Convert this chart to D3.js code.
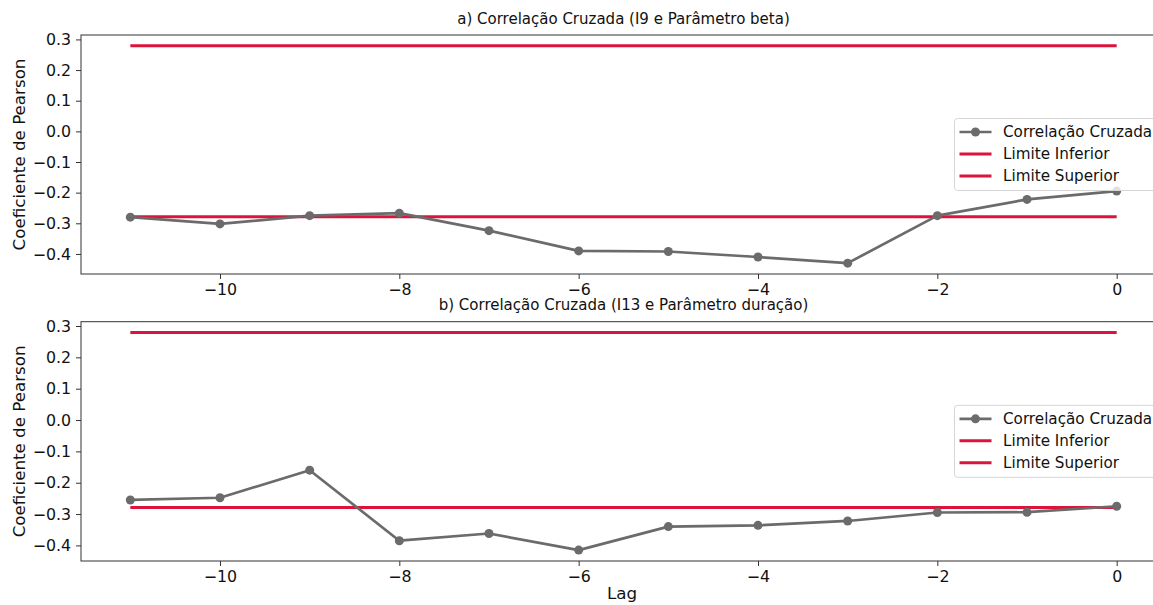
<!DOCTYPE html>
<html>
<head>
<meta charset="utf-8">
<script src="https://cdn.jsdelivr.net/npm/d3@7"></script>
<style>
  body { margin: 0; background: #fff; }
  svg { display: block; font-family: "DejaVu Sans", sans-serif; }
</style>
</head>
<body>
<svg></svg>
<script>
// data
let lags = [-11, -10, -9, -8, -7, -6, -5, -4, -3, -2, -1, 0];
let corrA = [-0.280, -0.302, -0.275, -0.267, -0.324, -0.390, -0.392, -0.410, -0.430, -0.275, -0.222, -0.195];
let corrB = [-0.255, -0.248, -0.160, -0.385, -0.362, -0.415, -0.340, -0.336, -0.322, -0.295, -0.294, -0.275];
let limInferior = -0.279;
let limSuperior = 0.279;
let titles = ['a) Correlação Cruzada (I9 e Parâmetro beta)', 'b) Correlação Cruzada (I13 e Parâmetro duração)'];
let legendLabels = ['Correlação Cruzada', 'Limite Inferior', 'Limite Superior'];
let xTicks = [-10, -8, -6, -4, -2, 0];
let yTicks = [-0.4, -0.3, -0.2, -0.1, 0.0, 0.1, 0.2, 0.3];

let width = 1153;
let height = 605;
let grey = '#6b6b6b';
let red = '#dc143c';

let svg = d3.select('svg')
    .attr('width', width)
    .attr('height', height);

// axes left/right (right edge is cropped off in the original)
let left = 81, right = 1166;
let panels = [
    { top: 35, bottom: 274, values: corrA, title: titles[0] },
    { top: 321.7, bottom: 561, values: corrB, title: titles[1] }
];

// unicode minus like matplotlib
function minus(s) { return s.replace('-', '\u2212'); }

// matplotlib-like 5% margins
let xPad = (d3.max(lags) - d3.min(lags)) * 0.05;
let xScale = d3.scaleLinear()
    .domain([d3.min(lags) - xPad, d3.max(lags) + xPad])
    .range([left, right]);

panels.forEach(function(p) {
    let lo = Math.min(d3.min(p.values), limInferior);
    let hi = Math.max(d3.max(p.values), limSuperior);
    let pad = (hi - lo) * 0.05;
    let yScale = d3.scaleLinear()
        .domain([lo - pad, hi + pad])
        .range([p.bottom, p.top]);

    let g = svg.append('g');

    // limits
    [limInferior, limSuperior].forEach(function(v) {
        g.append('line')
            .attr('x1', xScale(lags[0]))
            .attr('x2', xScale(lags[lags.length - 1]))
            .attr('y1', yScale(v))
            .attr('y2', yScale(v))
            .attr('stroke', red)
            .attr('stroke-width', 3);
    });

    // cross correlation line
    let line = d3.line()
        .x(function(d, i) { return xScale(lags[i]); })
        .y(function(d) { return yScale(d); });

    g.append('path')
        .datum(p.values)
        .attr('d', line)
        .attr('fill', 'none')
        .attr('stroke', grey)
        .attr('stroke-width', 2.7)
        .attr('stroke-linejoin', 'round');

    g.selectAll('circle')
        .data(p.values)
        .enter()
        .append('circle')
        .attr('cx', function(d, i) { return xScale(lags[i]); })
        .attr('cy', function(d) { return yScale(d); })
        .attr('r', 4.5)
        .attr('fill', grey);

    // axes
    let xAxis = d3.axisBottom(xScale)
        .tickValues(xTicks)
        .tickSize(5)
        .tickPadding(5)
        .tickFormat(function(d) { return minus(d3.format('d')(d)); });
    let gx = g.append('g')
        .attr('transform', `translate(0, ${p.bottom})`)
        .call(xAxis);

    let yAxis = d3.axisLeft(yScale)
        .tickValues(yTicks)
        .tickSize(5)
        .tickPadding(5)
        .tickFormat(function(d) { return minus(d3.format('.1f')(d)); });
    let gy = g.append('g')
        .attr('transform', `translate(${left}, 0)`)
        .call(yAxis);

    [gx, gy].forEach(function(a) {
        a.select('.domain').remove();
        a.selectAll('line').attr('stroke', '#333').attr('stroke-width', 1);
        a.selectAll('text')
            .attr('fill', '#111')
            .style('font-size', '15.8px')
            .style('font-family', '"DejaVu Sans", sans-serif');
    });

    // spines
    g.append('rect')
        .attr('x', left)
        .attr('y', p.top)
        .attr('width', right - left)
        .attr('height', p.bottom - p.top)
        .attr('fill', 'none')
        .attr('stroke', '#333')
        .attr('stroke-width', 1);

    // title
    g.append('text')
        .attr('x', (left + right) / 2)
        .attr('y', p.top - 11.5)
        .attr('text-anchor', 'middle')
        .attr('fill', '#111')
        .style('font-size', '15px')
        .text(p.title);

    // y label
    g.append('text')
        .attr('transform', `translate(24.5, ${(p.top + p.bottom) / 2}) rotate(-90)`)
        .attr('text-anchor', 'middle')
        .attr('fill', '#111')
        .style('font-size', '16.7px')
        .text('Coeficiente de Pearson');

    // legend (center right)
    let lgH = 72, lgW = 205;
    let lgX = 954.5, lgY = (p.top + p.bottom) / 2 - lgH / 2;
    let lg = g.append('g').attr('transform', `translate(${lgX}, ${lgY})`);
    lg.append('rect')
        .attr('width', lgW)
        .attr('height', lgH)
        .attr('rx', 3)
        .attr('fill', 'rgba(255,255,255,0.8)')
        .attr('stroke', '#d6d6d6')
        .attr('stroke-width', 1);
    legendLabels.forEach(function(label, i) {
        let cy = 13.5 + i * 22;
        lg.append('line')
            .attr('x1', 5).attr('x2', 37)
            .attr('y1', cy).attr('y2', cy)
            .attr('stroke', i === 0 ? grey : red)
            .attr('stroke-width', i === 0 ? 2.7 : 3);
        if (i === 0) {
            lg.append('circle')
                .attr('cx', 21).attr('cy', cy).attr('r', 4.5)
                .attr('fill', grey);
        }
        lg.append('text')
            .attr('x', 48.5)
            .attr('y', cy)
            .attr('dy', '0.36em')
            .attr('fill', '#111')
            .style('font-size', '15.2px')
            .text(label);
    });
});

// x label
svg.append('text')
    .attr('x', 622)
    .attr('y', 599)
    .attr('text-anchor', 'middle')
    .attr('fill', '#111')
    .style('font-size', '16.7px')
    .text('Lag');
</script>
</body>
</html>
